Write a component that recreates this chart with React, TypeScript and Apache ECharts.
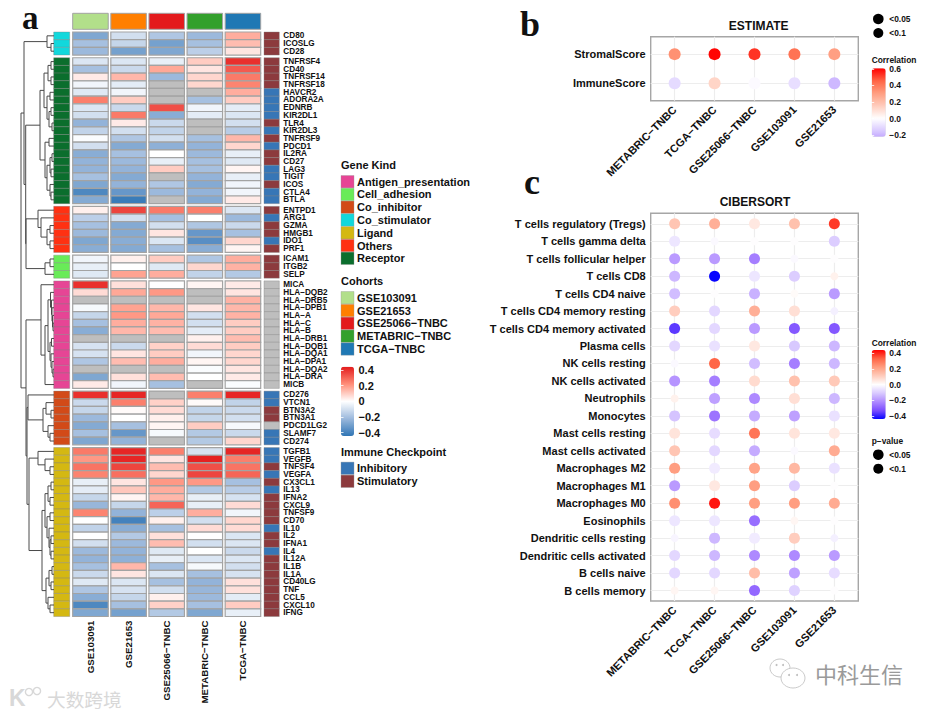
import React, { useEffect, useRef } from "react";
import * as echarts from "echarts";

const cohortsHeat = ["GSE103091", "GSE21653", "GSE25066\u2212TNBC", "METABRIC\u2212TNBC", "TCGA\u2212TNBC"];
const cohortColors = ["#B2DF8A", "#FF7F00", "#E31A1C", "#33A02C", "#1F78B4"];

const kindNames = ["Antigen_presentation", "Cell_adhesion", "Co_inhibitor", "Co_stimulator", "Ligand", "Others", "Receptor"];
const kindColors = ["#E64595", "#69EB58", "#D24A18", "#12D8DC", "#D4B812", "#FF3112", "#0B6E2D"];
const checkpointNames = ["Inhibitory", "Stimulatory"];
const checkpointColors = ["#3776B6", "#8C3A3D", "#BEBEBE"];

const NA = null;
const coStimGenes = ["CD80", "ICOSLG", "CD28"];
const coStimValues = [
  [-0.28, -0.1, -0.18, -0.22, 0.16],
  [-0.2, -0.13, -0.3, -0.2, 0.13],
  [-0.22, -0.3, -0.28, -0.15, 0.05],
];
const coStimCheck = "SSS";

const receptorGenes = ["TNFRSF4", "CD40", "TNFRSF14", "TNFRSF18", "HAVCR2", "ADORA2A", "EDNRB", "KIR2DL1", "TLR4", "KIR2DL3", "TNFRSF9", "PDCD1", "IL2RA", "CD27", "LAG3", "TIGIT", "ICOS", "CTLA4", "BTLA"];
const receptorValues = [
  [-0.08, -0.08, -0.05, 0.1, 0.4],
  [-0.2, -0.12, 0.17, 0.05, 0.32],
  [0.04, 0.14, -0.22, 0.08, 0.26],
  [-0.03, -0.06, NA, 0.08, 0.24],
  [-0.07, -0.03, NA, NA, 0.16],
  [0.25, 0.1, NA, -0.2, 0.1],
  [-0.08, -0.12, 0.34, -0.03, -0.06],
  [-0.1, 0.26, -0.26, -0.06, -0.08],
  [-0.24, 0.04, -0.12, NA, -0.1],
  [-0.14, -0.1, -0.14, NA, -0.16],
  [-0.01, -0.18, -0.1, -0.2, 0.14],
  [-0.1, -0.27, -0.25, -0.24, 0.08],
  [-0.26, -0.2, 0, -0.22, -0.05],
  [-0.24, -0.22, -0.05, -0.2, -0.07],
  [-0.24, -0.24, 0.1, -0.2, 0.02],
  [-0.2, -0.27, NA, -0.24, -0.05],
  [-0.28, -0.24, -0.18, -0.27, -0.03],
  [-0.38, -0.33, -0.22, -0.24, -0.03],
  [-0.27, -0.42, NA, -0.27, 0.04],
];
const receptorCheck = "SSSSIIIISISISSIISII";

const othersGenes = ["ENTPD1", "ARG1", "GZMA", "HMGB1", "IDO1", "PRF1"];
const othersValues = [
  [0.03, 0.36, 0.26, 0.25, -0.08],
  [-0.15, -0.1, -0.2, 0, -0.22],
  [-0.2, -0.27, -0.1, -0.18, -0.12],
  [-0.22, -0.27, 0.05, -0.33, -0.2],
  [-0.28, -0.26, -0.08, -0.36, 0.08],
  [-0.26, -0.27, -0.2, -0.26, 0.02],
];
const othersCheck = "SISSIS";

const adhesionGenes = ["ICAM1", "ITGB2", "SELP"];
const adhesionValues = [
  [-0.03, 0.03, 0.1, -0.18, 0.16],
  [-0.05, 0, -0.07, 0.08, 0.15],
  [-0.07, 0.18, 0.16, -0.14, -0.17],
];
const adhesionCheck = "SSS";

const antigenGenes = ["MICA", "HLA\u2212DQB2", "HLA\u2212DRB5", "HLA\u2212DPB1", "HLA\u2212A", "HLA\u2212C", "HLA\u2212B", "HLA\u2212DRB1", "HLA\u2212DQB1", "HLA\u2212DQA1", "HLA\u2212DPA1", "HLA\u2212DQA2", "HLA\u2212DRA", "MICB"];
const antigenValues = [
  [0.4, 0.06, 0, 0.02, 0.04],
  [0.07, 0.17, 0.2, NA, 0.05],
  [NA, NA, NA, NA, 0.15],
  [-0.02, 0.18, 0.14, 0.05, 0.14],
  [-0.13, 0.2, 0.17, -0.1, 0.15],
  [-0.2, 0.16, 0.15, -0.1, 0.1],
  [-0.26, 0.14, 0.13, -0.06, 0.1],
  [NA, NA, NA, 0.03, 0.13],
  [-0.09, -0.12, 0.09, 0.07, 0.1],
  [-0.09, 0.05, 0.1, -0.03, 0.08],
  [-0.18, 0.13, 0.16, 0.02, 0.08],
  [NA, NA, NA, -0.01, 0.05],
  [-0.28, 0.06, 0.13, 0, 0.04],
  [0.04, -0.03, -0.2, NA, -0.01],
];
const antigenCheck = "NNNNNNNNNNNNNN";

const coInhGenes = ["CD276", "VTCN1", "BTN3A2", "BTN3A1", "PDCD1LG2", "SLAMF7", "CD274"];
const coInhValues = [
  [0.4, 0.42, NA, 0.25, 0.42],
  [-0.12, 0.25, 0.09, 0.01, -0.14],
  [-0.13, 0.01, 0.07, -0.14, -0.12],
  [-0.22, 0, 0.03, -0.13, -0.1],
  [-0.27, -0.2, 0.02, 0.1, -0.02],
  [-0.2, -0.33, -0.02, -0.17, -0.12],
  [-0.28, -0.24, NA, -0.17, 0.08],
];
const coInhCheck = "IISSNII";

const ligandGenes = ["TGFB1", "VEGFB", "TNFSF4", "VEGFA", "CX3CL1", "IL13", "IFNA2", "CXCL9", "TNFSF9", "CD70", "IL10", "IL2", "IFNA1", "IL4", "IL12A", "IL1B", "IL1A", "CD40LG", "TNF", "CCL5", "CXCL10", "IFNG"];
const ligandValues = [
  [0.26, 0.42, 0.25, -0.09, 0.42],
  [0.2, 0.42, 0.05, 0.43, 0.25],
  [0.27, 0.36, 0.13, 0.34, 0.27],
  [0.24, 0.28, 0.08, 0.36, 0.3],
  [-0.05, 0.05, 0.2, 0.2, -0.2],
  [-0.06, 0.11, 0.16, -0.17, -0.16],
  [-0.13, 0.02, 0.14, -0.05, -0.09],
  [-0.23, -0.13, 0.3, -0.05, 0.07],
  [0.24, -0.24, -0.15, 0.16, -0.03],
  [0, -0.4, 0.03, -0.1, 0.08],
  [-0.14, -0.26, -0.2, 0.07, 0.07],
  [0, -0.17, 0.06, 0, -0.08],
  [-0.1, -0.22, 0.13, -0.1, -0.08],
  [-0.22, -0.24, -0.07, 0, -0.12],
  [-0.24, -0.25, -0.05, -0.08, -0.08],
  [-0.2, 0.14, -0.2, -0.02, -0.1],
  [-0.12, 0.05, -0.08, -0.2, -0.09],
  [-0.07, -0.08, -0.2, -0.24, 0.06],
  [-0.18, -0.09, -0.1, -0.23, 0.06],
  [-0.26, -0.13, 0.03, -0.22, -0.06],
  [-0.38, -0.2, 0.09, -0.2, 0.1],
  [-0.28, -0.3, -0.17, -0.28, -0.05],
];
const ligandCheck = "IISISISSSSISSISSSSSSSS";

const groups = [
  { genes: coStimGenes, values: coStimValues, check: coStimCheck, kind: 3 },
  { genes: receptorGenes, values: receptorValues, check: receptorCheck, kind: 6 },
  { genes: othersGenes, values: othersValues, check: othersCheck, kind: 5 },
  { genes: adhesionGenes, values: adhesionValues, check: adhesionCheck, kind: 1 },
  { genes: antigenGenes, values: antigenValues, check: antigenCheck, kind: 0 },
  { genes: coInhGenes, values: coInhValues, check: coInhCheck, kind: 2 },
  { genes: ligandGenes, values: ligandValues, check: ligandCheck, kind: 4 },
];

// Dendrogram: [merge height, child, child]; 1 is a leaf, taken in row order
const treeCoStim = [7, 1, [3, 1, 1]];
const treeReceptor = [14,
  [10, [6, [3, 1, 1], [3, 1, 1]], [7, [4, 1, 1], [5, [3, 1, 1], [2, 1, 1]]]],
  [9, [5, 1, 1], [7, [4, [2, 1, 1], [3, 1, 1]], [4, 1, [3, 1, 1]]]],
];
const treeOthers = [16, 1, [13, 1, [7, [4, 1, 1], [4, 1, 1]]]];
const treeAdhesion = [9, [4, 1, 1], 1];
const treeAntigen = [13, 1, [9, [6,
  [3.5, 1, [2.5, 1, [2, 1, [1.5, 1, [1, 1, 1]]]]],
  [4, [2.5, 1, 1], [3, 1, [2, 1, [1, 1, 1]]]],
], 1]];
const treeCoInh = [26, 1, [11, [8, 1, [3, 1, 1]], [6, 1, [4, 1, 1]]]];
const treeLigand = [25, [16, 1, [9, 1, [4, 1, 1]]], [12,
  [9, [6, [3, 1, 1], [4, 1, 1]], [7, [4, 1, 1], [5, 1, [4, [3, 1, 1], [3, 1, 1]]]]],
  [8, [5, [2, 1, 1], [3, 1, 1]], [6, 1, [4, 1, 1]]],
]];
const treeRoot = [33,
  [30, treeCoStim, [28.3, treeReceptor, [28, treeOthers, treeAdhesion]]],
  [28, treeAntigen, [27, treeCoInh, treeLigand]],
];

const dotCohorts = ["METABRIC\u2212TNBC", "TCGA\u2212TNBC", "GSE25066\u2212TNBC", "GSE103091", "GSE21653"];
const estimateRows = ["StromalScore", "ImmuneScore"];
const estimateValues = [
  [0.34, 0.6, 0.53, 0.42, 0.3],
  [-0.1, 0.13, -0.01, -0.09, -0.19],
];
const cibersortRows = [
  "T cells regulatory (Tregs)", "T cells gamma delta", "T cells follicular helper", "T cells CD8", "T cells CD4 naive",
  "T cells CD4 memory resting", "T cells CD4 memory activated", "Plasma cells", "NK cells resting", "NK cells activated",
  "Neutrophils", "Monocytes", "Mast cells resting", "Mast cells activated", "Macrophages M2", "Macrophages M1",
  "Macrophages M0", "Eosinophils", "Dendritic cells resting", "Dendritic cells activated", "B cells naive", "B cells memory",
];
const cibersortValues = [
  [0.13, 0.18, 0.05, 0.14, 0.38],
  [-0.05, -0.01, 0, 0, -0.1],
  [-0.19, -0.19, -0.24, -0.01, 0],
  [-0.14, -0.44, -0.05, -0.1, 0.03],
  [-0.13, 0, -0.15, 0.01, -0.19],
  [0.11, -0.08, 0.18, 0.07, -0.03],
  [-0.36, -0.08, -0.19, -0.31, -0.31],
  [-0.08, -0.06, 0.05, -0.11, -0.14],
  [-0.01, 0.33, -0.13, -0.24, -0.14],
  [-0.2, -0.24, 0.08, 0.14, 0.12],
  [0.03, -0.18, -0.22, 0.07, -0.14],
  [-0.12, -0.26, -0.16, -0.18, -0.06],
  [0.06, -0.07, 0.3, 0.06, 0.05],
  [0.13, -0.08, -0.16, -0.01, 0.19],
  [0.22, -0.04, 0.21, 0.16, -0.06],
  [-0.19, 0.05, 0.22, -0.1, 0],
  [0.25, 0.42, 0.22, 0.22, 0.19],
  [-0.05, -0.05, -0.27, 0.02, 0],
  [-0.02, -0.14, -0.04, 0.11, -0.03],
  [-0.08, -0.14, -0.22, -0.22, -0.19],
  [-0.08, -0.08, 0.15, -0.18, -0.07],
  [0.02, 0.02, -0.28, -0.09, 0],
];

const heatTicks = [-0.4, -0.2, 0, 0.2, 0.4];
const estimateTicks = [-0.2, 0, 0.2, 0.4, 0.6];
const cibersortTicks = [-0.4, -0.2, 0, 0.2, 0.4];

const SANS = "'Liberation Sans', Arial, sans-serif";
const INK = "#111111";

function hexToRgb(h: string) {
  return [1, 3, 5].map((i) => parseInt(h.slice(i, i + 2), 16));
}
function ramp(stops: string[], t: number) {
  const p = Math.min(Math.max(t, 0), 1) * (stops.length - 1);
  const i = Math.min(Math.floor(p), stops.length - 2);
  const a = hexToRgb(stops[i]);
  const b = hexToRgb(stops[i + 1]);
  const f = p - i;
  return "rgb(" + a.map((c, k) => Math.round(c + (b[k] - c) * f)).join(",") + ")";
}
const heatBlue = ["#FFFFFF", "#9CB9DC", "#2F75B5"];
const heatRed = ["#FFFFFF", "#FF8E78", "#E31A1C"];
const dotBlue = ["#FFFFFF", "#D8C8FF", "#AE88FF", "#7A4CFF", "#0000FF"];
const dotRed = ["#FFFFFF", "#FFCDBD", "#FF9E81", "#FF6545", "#FF0000"];
function sampleScale(min: number, max: number, blue: string[], red: string[]) {
  const m = Math.max(Math.abs(min), Math.abs(max));
  const out: string[] = [];
  for (let i = 0; i <= 40; i++) {
    const v = min + ((max - min) * i) / 40;
    out.push(ramp(v < 0 ? blue : red, Math.abs(v) / m));
  }
  return out;
}
const fmtTick = (v: number) => (v < 0 ? "\u2212" : "") + Math.abs(v).toFixed(1);
const fmtHeatTick = (v: number) => (v === 0 ? "0" : fmtTick(v));

// layout
const ROW = 7.68;
const GAP = 2.7;
const TOP = 32;
const GAP_UNITS = GAP / ROW;
const CELL = "#A3A3A3";

function renderCell(inset: number, colorOf: (api: any) => string, stroke: string, lw: number) {
  return (_p: any, api: any) => {
    const c = api.coord([api.value(0), api.value(1)]);
    const s = api.size([1, 1]);
    return {
      type: "rect",
      shape: { x: c[0] - s[0] / 2 + inset, y: c[1] - s[1] / 2, width: s[0] - 2 * inset, height: s[1] },
      style: { fill: colorOf(api), stroke, lineWidth: lw },
    };
  };
}

function buildOption() {
  const grid: any[] = [];
  const xAxis: any[] = [];
  const yAxis: any[] = [];
  const series: any[] = [];
  const heatSeries: number[] = [];
  const addPlain = (g: any, x: any, y: any) => {
    grid.push(g);
    const i = grid.length - 1;
    xAxis.push({ gridIndex: i, ...x });
    yAxis.push({ gridIndex: i, ...y });
    return i;
  };

  // Heatmap blocks
  let top = TOP;
  const leafY: number[] = [];
  let units = 0;
  groups.forEach((g, gi) => {
    const h = g.genes.length * ROW;
    const isLast = gi === groups.length - 1;
    g.genes.forEach(() => { leafY.push(units + 0.5); units += 1; });
    units += GAP_UNITS;
    const yCat = { type: "category", data: g.genes, inverse: true, show: false };
    const main = addPlain(
      { left: 71.4, width: 190.6, top, height: h },
      {
        type: "category", data: cohortsHeat, show: isLast, position: "bottom",
        axisLine: { show: false }, axisTick: { show: false },
        axisLabel: { interval: 0, rotate: 90, margin: 4, fontFamily: SANS, fontSize: 9.7, fontWeight: "bold", color: INK },
      },
      yCat
    );
    heatSeries.push(series.length);
    series.push({
      type: "custom", xAxisIndex: main, yAxisIndex: main, silent: true,
      encode: { x: 0, y: 1 },
      data: g.values.flatMap((row, r) => row.map((v, c) => [c, r, v])),
      renderItem: renderCell(1.3, (api) => (isNaN(api.value(2)) ? "#BEBEBE" : api.visual("color")), CELL, 1.2),
    });
    const left = addPlain(
      { left: 53.7, width: 16, top, height: h },
      { type: "category", data: ["Gene Kind"], show: false },
      yCat
    );
    series.push({
      type: "custom", xAxisIndex: left, yAxisIndex: left, silent: true,
      encode: { x: 0, y: 1 },
      data: g.genes.map((_n, r) => [0, r]),
      renderItem: renderCell(0, () => kindColors[g.kind], "rgba(130,130,130,0.55)", 0.7),
    });
    const right = addPlain(
      { left: 264, width: 15.3, top, height: h },
      { type: "category", data: ["Immune Checkpoint"], show: false },
      {
        type: "category", data: g.genes, inverse: true, position: "right",
        axisLine: { show: false }, axisTick: { show: false },
        axisLabel: { interval: 0, margin: 4, fontFamily: SANS, fontSize: 8.2, fontWeight: "bold", color: INK, align: "left" },
      }
    );
    series.push({
      type: "custom", xAxisIndex: right, yAxisIndex: right, silent: true,
      encode: { x: 0, y: 1 },
      data: g.genes.map((_n, r) => [0, r, "ISN".indexOf(g.check[r])]),
      renderItem: renderCell(0, (api) => checkpointColors[api.value(2)], "rgba(130,130,130,0.55)", 0.7),
    });
    top += h + GAP;
  });

  // Cohort annotation row
  const cohortGrid = addPlain(
    { left: 71.4, width: 190.6, top: 13.3, height: 16 },
    { type: "category", data: cohortsHeat, show: false },
    { type: "category", data: ["Cohorts"], show: false }
  );
  series.push({
    type: "custom", xAxisIndex: cohortGrid, yAxisIndex: cohortGrid, silent: true,
    encode: { x: 0, y: 1 },
    data: cohortsHeat.map((_n, i) => [i, 0]),
    renderItem: renderCell(1.3, (api) => cohortColors[api.value(0)], CELL, 1),
  });

  // Dendrogram
  const segs: number[][] = [];
  let leaf = 0;
  const walk = (n: any): { h: number; y: number } => {
    if (n === 1) return { h: 0, y: leafY[leaf++] };
    const a = walk(n[1]);
    const b = walk(n[2]);
    segs.push([n[0], a.y, n[0], b.y], [a.h, a.y, n[0], a.y], [b.h, b.y, n[0], b.y]);
    return { h: n[0], y: (a.y + b.y) / 2 };
  };
  walk(treeRoot);
  const dendro = addPlain(
    { left: 20, width: 34, top: TOP, height: top - GAP - TOP },
    { type: "value", min: 0, max: 34, inverse: true, show: false },
    { type: "value", min: 0, max: units - GAP_UNITS, inverse: true, show: false }
  );
  series.push({
    type: "custom", xAxisIndex: dendro, yAxisIndex: dendro, silent: true, clip: false,
    data: segs,
    renderItem: (_p: any, api: any) => {
      const a = api.coord([api.value(0), api.value(1)]);
      const b = api.coord([api.value(2), api.value(3)]);
      return {
        type: "line",
        shape: { x1: a[0], y1: a[1], x2: b[0], y2: b[1] },
        style: { stroke: "#4A4A4A", lineWidth: 1 },
      };
    },
  });

  // Dot panels
  const dotPanel = (g: any, rows: string[], values: number[][], size: (v: number) => number) => {
    const rowIdx = rows.map((_r, i) => i);
    const colIdx = dotCohorts.map((_r, i) => i);
    const i = addPlain(
      { ...g, show: true, borderColor: "#A6A6A6", borderWidth: 1.4, backgroundColor: "#fff" },
      {
        type: "value", min: -0.6, max: 4.6, position: "bottom",
        axisLine: { show: false },
        axisTick: { show: false, customValues: colIdx },
        splitLine: { show: true, lineStyle: { color: "#EDEDED", width: 1.2 } },
        axisLabel: {
          customValues: colIdx, formatter: (v: number) => dotCohorts[v], rotate: 45, margin: 7,
          fontFamily: SANS, fontSize: 11, fontWeight: "bold", color: INK, hideOverlap: false,
        },
      },
      {
        type: "value", min: -0.6, max: rows.length - 0.4, inverse: true,
        axisLine: { show: false },
        axisTick: { show: false, customValues: rowIdx },
        splitLine: { show: true, lineStyle: { color: "#EDEDED", width: 1.2 } },
        axisLabel: {
          customValues: rowIdx, formatter: (v: number) => rows[v], margin: 5,
          fontFamily: SANS, fontSize: 11, fontWeight: "bold", color: INK, hideOverlap: false,
        },
      }
    );
    const si = series.length;
    series.push({
      type: "scatter", xAxisIndex: i, yAxisIndex: i, silent: true,
      encode: { x: 0, y: 1 },
      data: values.flatMap((row, r) => row.map((v, c) => [c, r, v])),
      symbolSize: (d: number[]) => size(d[2]),
      itemStyle: { opacity: 1 },
    });
    return si;
  };
  const estimateSeries = dotPanel({ left: 650.7, width: 207.6, top: 36.7, height: 64 }, estimateRows, estimateValues, () => 12);
  const cibersortSeries = dotPanel({ left: 650.7, width: 207.6, top: 213.3, height: 387.7 }, cibersortRows, cibersortValues, (v) => (Math.abs(v) < 0.035 ? 8 : 11));

  // Colour bar tick axes
  const barAxis = (left: number, barTop: number, barH: number, min: number, max: number, ticks: number[], font: number, fmt: (v: number) => string) => {
    const ticksStyle = { inside: true, length: 2.5, lineStyle: { color: "#fff", width: 0.8 }, customValues: ticks };
    const i = addPlain(
      { left, width: 14, top: barTop, height: barH },
      { type: "value", min: 0, max: 1, show: false },
      {
        type: "value", min, max, position: "right", z: 10,
        axisLine: { show: false }, splitLine: { show: false },
        axisTick: ticksStyle,
        axisLabel: { customValues: ticks, formatter: fmt, margin: 3.5, fontFamily: SANS, fontSize: font, fontWeight: "bold", color: INK, hideOverlap: false },
      }
    );
    yAxis.push({
      gridIndex: i, type: "value", min, max, position: "left", z: 10,
      axisLine: { show: false }, splitLine: { show: false }, axisTick: ticksStyle,
      axisLabel: { show: false },
    });
  };
  barAxis(341, 366.7, 69.3, -0.442, 0.442, heatTicks, 11, fmtHeatTick);
  barAxis(871.7, 68.3, 68.4, -0.22, 0.608, estimateTicks, 8.5, fmtTick);
  barAxis(871.7, 350, 69, -0.438, 0.443, cibersortTicks, 8.5, fmtTick);

  const barMap = (seriesIndex: number | number[], left: number, barTop: number, width: number, h: number, min: number, max: number, blue: string[], red: string[]) => ({
    type: "continuous", seriesIndex, dimension: 2, min, max, left, top: barTop, padding: 0,
    itemWidth: width, itemHeight: h, calculable: false, hoverLink: false, text: null, showLabel: false,
    inRange: { color: sampleScale(min, max, blue, red) },
    textStyle: { fontSize: 0 },
  });
  const visualMap = [
    barMap(heatSeries, 341, 366.7, 13, 69.3, -0.442, 0.442, heatBlue, heatRed),
    barMap(estimateSeries, 871.7, 68.3, 14, 68.4, -0.22, 0.608, dotBlue, dotRed),
    barMap(cibersortSeries, 871.7, 350, 14, 69, -0.438, 0.443, dotBlue, dotRed),
  ];

  // Legends and captions
  const txt = (text: string, x: number, y: number, font: string, extra: any = {}) => ({
    type: "text", x, y, silent: true,
    style: { text, font, fill: INK, align: "left", verticalAlign: "middle", ...extra },
  });
  const sq = (x: number, y: number, fill: string) => ({
    type: "rect", silent: true,
    shape: { x, y: y - 6.2, width: 13, height: 12.4 },
    style: { fill, stroke: "rgba(150,150,150,0.6)", lineWidth: 0.6 },
  });
  const dot = (x: number, y: number, r: number, fill = "#000") => ({
    type: "circle", silent: true, shape: { cx: x, cy: y, r }, style: { fill },
  });
  const legendFont = `bold 11px ${SANS}`;
  const smallFont = `bold 8.4px ${SANS}`;
  const graphic: any[] = [];
  graphic.push(
    txt("a", 22, 18, "bold 33px 'Liberation Serif', serif"),
    txt("b", 520, 24, "bold 36px 'Liberation Serif', serif"),
    txt("c", 524, 182, "bold 36px 'Liberation Serif', serif")
  );
  graphic.push(txt("Gene Kind", 341, 165, legendFont));
  kindNames.forEach((n, i) => {
    const y = 181.7 + i * 12.77;
    graphic.push(sq(341, y, kindColors[i]), txt(n, 357, y, legendFont));
  });
  graphic.push(txt("Cohorts", 341, 281.3, legendFont));
  cohortsHeat.forEach((n, i) => {
    const y = 297.7 + i * 12.83;
    graphic.push(sq(341, y, cohortColors[i]), txt(n, 357, y, legendFont));
  });
  graphic.push(txt("Immune Checkpoint", 341, 451.7, legendFont));
  checkpointNames.forEach((n, i) => {
    const y = 468.3 + i * 13;
    graphic.push(sq(341, y, checkpointColors[i]), txt(n, 357, y, legendFont));
  });
  graphic.push(
    txt("ESTIMATE", 758.7, 25.7, `bold 12px ${SANS}`, { align: "center" }),
    txt("CIBERSORT", 755, 202, `bold 12px ${SANS}`, { align: "center" }),
    dot(878.3, 19, 5.3), dot(878.3, 33, 5),
    txt("<0.05", 889.3, 19.3, smallFont), txt("<0.1", 889.3, 33.3, smallFont),
    txt("Correlation", 871.7, 60, smallFont),
    txt("Correlation", 871.7, 343, smallFont),
    txt("p\u2212value", 871.7, 440.7, smallFont),
    dot(878.3, 454.7, 5.3), dot(878.3, 468.7, 5),
    txt("<0.05", 889.3, 455, smallFont), txt("<0.1", 889.3, 469, smallFont)
  );
  // Watermarks
  const ghost = { fill: "#D8D8D8" };
  const ring = (cx: number, cy: number, rx: number, ry: number) => ({
    type: "ellipse", silent: true, shape: { cx, cy, rx, ry }, style: { fill: "#fff", stroke: "#BDBDBD", lineWidth: 0.8 },
  });
  graphic.push(
    txt("\u5927\u6570\u8DE8\u5883", 47, 698, "18.7px 'Noto Sans CJK SC'", ghost),
    txt("K", 9, 698, "bold 23px 'Liberation Sans'", ghost),
    { type: "circle", silent: true, shape: { cx: 29, cy: 692, r: 3.6 }, style: { fill: "none", stroke: "#D8D8D8", lineWidth: 1.4 } },
    { type: "circle", silent: true, shape: { cx: 37, cy: 691, r: 3.6 }, style: { fill: "none", stroke: "#D8D8D8", lineWidth: 1.4 } },
    txt("\u4E2D\u79D1\u751F\u4FE1", 815, 673, "22px 'Noto Sans CJK SC'", { fill: "#9A9A9A" }),
    ring(780, 668, 10, 9),
    ring(793, 678, 12, 10),
    dot(776.5, 665, 1, "#BDBDBD"), dot(783, 665, 1, "#BDBDBD"),
    dot(789, 675, 1, "#BDBDBD"), dot(797, 675, 1, "#BDBDBD")
  );

  return {
    animation: false,
    backgroundColor: "#fff",
    textStyle: { fontFamily: SANS },
    tooltip: { show: false },
    grid, xAxis, yAxis, series, visualMap, graphic,
  };
}

export default function App() {
  const ref = useRef<HTMLDivElement>(null);
  useEffect(() => {
    document.body.style.margin = "0";
    const chart = echarts.init(ref.current!, undefined, { renderer: "svg" });
    chart.setOption(buildOption() as any);
    return () => chart.dispose();
  }, []);
  return <div ref={ref} style={{ position: "absolute", left: 0, top: 0, width: 935, height: 715 }} />;
}
